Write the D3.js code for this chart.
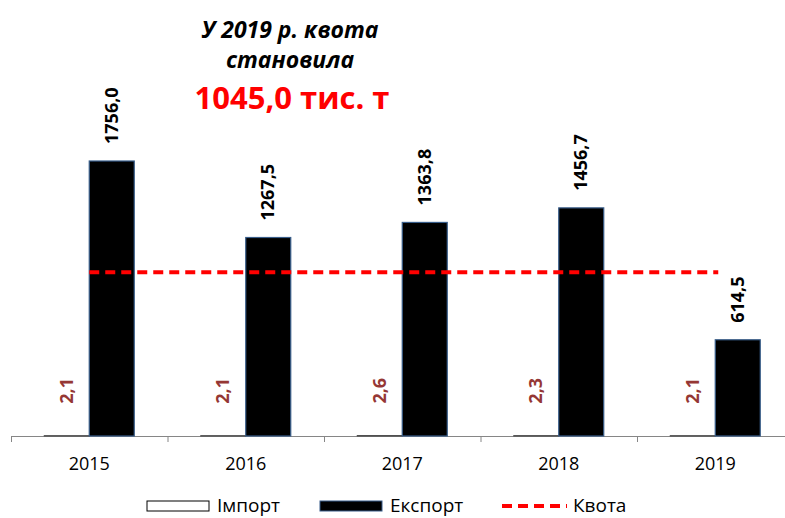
<!DOCTYPE html>
<html>
<head>
<meta charset="utf-8">
<script src="https://cdn.jsdelivr.net/npm/d3@7/dist/d3.min.js"></script>
<style>
  body { margin: 0; background: #fff; }
  text { font-family: "Open Sans", "Noto Sans", sans-serif; }
</style>
</head>
<body>
<svg id="chart" width="785" height="518"></svg>
<script>
const years = ["2015", "2016", "2017", "2018", "2019"];
const importVals = [2.1, 2.1, 2.6, 2.3, 2.1];
const exportVals = [1756.0, 1267.5, 1363.8, 1456.7, 614.5];
const quota = 1045.0;
const titleLines = ["У 2019 р. квота", "становила"];
const titleValue = "1045,0 тис. т";
const legendNames = ["Імпорт", "Експорт", "Квота"];

const fmt = v => v.toFixed(1).replace(".", ",");

const svg = d3.select("#chart");
const baseY = 436;

const x = d3.scaleBand()
    .domain(years)
    .range([11, 793.5])
    .paddingInner(0)
    .paddingOuter(0);

const y = d3.scaleLinear()
    .domain([0, 1756])
    .range([baseY, 161]);

const barW = 45;
const mid = d => x(d) + x.bandwidth() / 2;

// axis
const axis = svg.append("g");
axis.append("line")
    .attr("x1", 11).attr("x2", 785)
    .attr("y1", baseY + 0.5).attr("y2", baseY + 0.5)
    .attr("stroke", "#868686").attr("stroke-width", 1);
years.forEach(d => {
    axis.append("line")
        .attr("x1", x(d) + 0.5).attr("x2", x(d) + 0.5)
        .attr("y1", baseY).attr("y2", baseY + 6)
        .attr("stroke", "#868686");
});
axis.selectAll("text.year")
    .data(years)
    .join("text")
    .attr("class", "year")
    .attr("x", d => mid(d))
    .attr("y", 470)
    .attr("text-anchor", "middle")
    .attr("font-size", 18)
    .attr("fill", "#000")
    .text(d => d);

// import bars
svg.selectAll("rect.imp")
    .data(importVals)
    .join("rect")
    .attr("class", "imp")
    .attr("x", (d, i) => mid(years[i]) - barW)
    .attr("y", d => y(d))
    .attr("width", barW)
    .attr("height", d => baseY - y(d))
    .attr("fill", "#fff")
    .attr("stroke", "#404040")
    .attr("stroke-width", 1);

// export bars
svg.selectAll("rect.exp")
    .data(exportVals)
    .join("rect")
    .attr("class", "exp")
    .attr("x", (d, i) => mid(years[i]))
    .attr("y", d => y(d))
    .attr("width", barW)
    .attr("height", d => baseY - y(d))
    .attr("fill", "#000")
    .attr("stroke", "#385d8a")
    .attr("stroke-width", 1.2);

// export labels
svg.selectAll("text.explbl")
    .data(exportVals)
    .join("text")
    .attr("class", "explbl")
    .attr("transform", (d, i) => `translate(${mid(years[i]) + barW / 2 + 6},${y(d) - 17}) rotate(-90)`)
    .attr("font-size", 18)
    .attr("font-weight", "bold")
    .attr("fill", "#000")
    .text(d => fmt(d));

// import labels
svg.selectAll("text.implbl")
    .data(importVals)
    .join("text")
    .attr("class", "implbl")
    .attr("transform", (d, i) => `translate(${mid(years[i]) - barW / 2 + 6},${y(d) - 32}) rotate(-90)`)
    .attr("font-size", 18)
    .attr("font-weight", "bold")
    .attr("fill", "#953735")
    .text(d => fmt(d));

// quota line
svg.append("line")
    .attr("x1", mid(years[0])).attr("x2", mid(years[4]) + 3)
    .attr("y1", y(quota)).attr("y2", y(quota))
    .attr("stroke", "#ff0000")
    .attr("stroke-width", 4)
    .attr("stroke-dasharray", "10,6");

// title
svg.selectAll("text.title")
    .data(titleLines)
    .join("text")
    .attr("class", "title")
    .attr("x", 290)
    .attr("y", (d, i) => 38 + i * 30)
    .attr("text-anchor", "middle")
    .attr("font-size", 23)
    .attr("font-weight", "bold")
    .attr("font-style", "italic")
    .text(d => d);
svg.append("text")
    .attr("x", 292)
    .attr("y", 109)
    .attr("text-anchor", "middle")
    .attr("font-size", 31)
    .attr("font-weight", "bold")
    .attr("fill", "#ff0000")
    .text(titleValue);

// legend
const leg = svg.append("g");
leg.append("rect").attr("x", 147).attr("y", 501).attr("width", 62).attr("height", 10)
    .attr("fill", "#fff").attr("stroke", "#000");
leg.append("rect").attr("x", 320).attr("y", 501).attr("width", 62).attr("height", 10)
    .attr("fill", "#000").attr("stroke", "#385d8a");
leg.append("line").attr("x1", 502).attr("x2", 567).attr("y1", 506).attr("y2", 506)
    .attr("stroke", "#ff0000").attr("stroke-width", 4).attr("stroke-dasharray", "10,6");
leg.selectAll("text")
    .data(legendNames)
    .join("text")
    .attr("x", (d, i) => [217, 390, 573][i])
    .attr("y", 512)
    .attr("font-size", 19)
    .text(d => d);
</script>
</body>
</html>
